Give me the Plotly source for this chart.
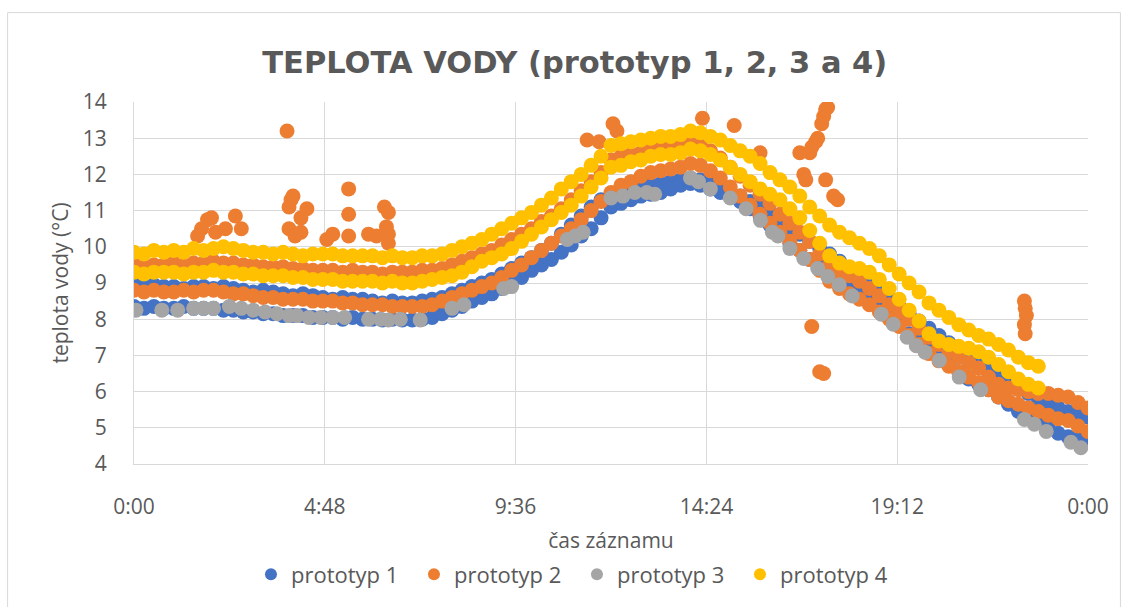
import plotly.graph_objects as go

# --- sampling clock of the loggers (hours, every 15 minutes) ---
T = [i / 4 for i in range(97)]

# --- prototyp 1 (two overlapping days) ---
p1_upper = [8.95, 8.9, 8.95, 8.9, 8.9, 8.85, 8.9, 8.9, 8.85, 8.9, 8.85, 8.8,
            8.75, 8.8, 8.75, 8.7, 8.65, 8.7, 8.65, 8.6, 8.55, 8.6, 8.55, 8.55,
            8.5, 8.45, 8.5, 8.45, 8.45, 8.5, 8.55, 8.6, 8.7, 8.8, 8.9, 9.0,
            9.1, 9.25, 9.4, 9.55, 9.7, 9.9, 10.1, 10.35, 10.6, 10.85, 11.1, 11.3,
            11.45, 11.55, 11.6, 11.65, 11.7, 11.75, 11.8, 11.85, 11.9, 11.85, 11.75, 11.65,
            11.5, 11.4, 11.25, 11.1, 10.95, 10.75, 10.55, 10.35, 10.15, 9.95, 9.8, 9.6,
            9.4, 9.2, 9.0, 8.8, 8.6, 8.35, 8.15, 7.95, 7.75, 7.55, 7.35, 7.15,
            6.95, 6.75, 6.6, 6.45, 6.25, 6.1, 5.95, 5.8, 5.65, 5.55, 5.45, 5.35, 5.3]
p1_lower = [8.35, 8.3, 8.35, 8.3, 8.3, 8.35, 8.3, 8.3, 8.3, 8.25, 8.25, 8.2,
            8.2, 8.15, 8.15, 8.1, 8.1, 8.1, 8.05, 8.05, 8.05, 8.0, 8.05, 8.0,
            8.0, 7.98, 8.0, 7.98, 7.98, 8.0, 8.05, 8.15, 8.25, 8.35, 8.5, 8.6,
            8.7, 8.85, 9.0, 9.15, 9.35, 9.5, 9.65, 9.85, 10.05, 10.3, 10.5, 10.8,
            11.1, 11.2, 11.3, 11.4, 11.45, 11.5, 11.6, 11.7, 11.75, 11.7, 11.6, 11.5,
            11.4, 11.25, 11.05, 10.85, 10.6, 10.35, 10.1, 9.9, 9.65, 9.5, 9.3, 9.1,
            8.85, 8.7, 8.5, 8.3, 8.05, 7.85, 7.6, 7.4, 7.2, 7.0, 6.75, 6.55,
            6.35, 6.2, 6.05, 5.85, 5.65, 5.45, 5.3, 5.15, 5.0, 4.85, 4.75, 4.7, 4.65]

# --- prototyp 2 ---
p2_upper = [9.5, 9.45, 9.5, 9.5, 9.55, 9.5, 9.55, 9.55, 9.6, 9.55, 9.55, 9.5,
            9.5, 9.45, 9.45, 9.45, 9.4, 9.4, 9.35, 9.35, 9.35, 9.3, 9.35, 9.3,
            9.3, 9.25, 9.3, 9.3, 9.3, 9.35, 9.35, 9.4, 9.5, 9.6, 9.7, 9.8,
            9.9, 10.05, 10.2, 10.35, 10.5, 10.7, 10.85, 11.05, 11.3, 11.55, 11.8, 12.05,
            12.4, 12.5, 12.55, 12.6, 12.7, 12.75, 12.75, 12.8, 12.85, 12.8, 12.65, 12.45,
            12.2, 11.95, 11.7, 11.45, 11.2, 10.9, 10.65, 10.4, 10.15, 9.8, 9.5, 9.3,
            9.2, 9.05, 8.85, 8.65, 8.4, 8.2, 8.0, 7.75, 7.5, 7.3, 7.1, 6.95,
            6.8, 6.65, 6.4, 6.2, 6.1, 6.05, 6.0, 5.95, 5.95, 5.9, 5.85, 5.7, 5.55]
p2_lower = [8.8, 8.75, 8.8, 8.75, 8.75, 8.8, 8.75, 8.8, 8.8, 8.75, 8.7, 8.7,
            8.65, 8.6, 8.6, 8.55, 8.55, 8.55, 8.5, 8.5, 8.5, 8.45, 8.45, 8.4,
            8.4, 8.4, 8.35, 8.35, 8.35, 8.35, 8.4, 8.5, 8.6, 8.7, 8.8, 8.9,
            9.0, 9.15, 9.35, 9.5, 9.7, 9.9, 10.1, 10.3, 10.5, 10.75, 11.0, 11.25,
            11.5, 11.7, 11.8, 11.95, 12.05, 12.1, 12.15, 12.2, 12.3, 12.25, 12.1, 11.9,
            11.65, 11.4, 11.15, 10.9, 10.65, 10.4, 10.15, 9.9, 9.65, 9.35, 9.05, 8.85,
            8.7, 8.55, 8.4, 8.2, 8.0, 7.8, 7.55, 7.3, 7.05, 6.85, 6.7, 6.55,
            6.4, 6.25, 6.05, 5.85, 5.75, 5.65, 5.55, 5.45, 5.35, 5.25, 5.2, 5.05, 4.9]
p2_spike_t = [1.6, 1.7, 1.85, 1.95, 2.05, 2.3, 2.55, 2.7,
              3.85, 3.9, 3.95, 4.0, 3.9, 4.05, 4.2, 4.35, 4.2,
              4.85, 5.0, 5.4, 5.4, 5.4, 5.9, 6.1, 6.3, 6.4, 6.35, 6.4, 6.4,
              11.4, 11.7, 12.05, 12.15, 14.3, 15.1, 15.75,
              16.75, 16.85, 16.9, 17.0, 17.05, 17.15, 17.2, 17.3, 17.35, 17.4, 17.45,
              17.4, 17.6, 17.7, 17.05, 17.25, 17.35,
              22.4, 22.42, 22.45, 22.4, 22.42]
p2_spike_v = [10.3, 10.5, 10.75, 10.8, 10.4, 10.5, 10.85, 10.5,
              13.2, 11.1, 11.3, 11.4, 10.5, 10.3, 10.8, 11.05, 10.4,
              10.2, 10.35, 11.6, 10.9, 10.3, 10.35, 10.3, 11.1, 10.95, 10.55, 10.35, 10.1,
              12.95, 12.9, 13.4, 13.2, 13.55, 13.35, 12.6,
              12.6, 12.0, 11.85, 12.6, 12.75, 12.9, 13.0, 13.4, 13.6, 13.8, 13.85,
              11.85, 11.4, 11.3, 7.8, 6.55, 6.5,
              8.5, 8.3, 8.1, 7.85, 7.6]

# --- prototyp 3 (sparser record) ---
p3_t = [0.05, 0.7, 1.1, 1.5, 1.75, 2.0, 2.4, 2.7, 3.0, 3.3, 3.6, 3.9, 4.1, 4.4,
        4.7, 5.0, 5.3, 5.9, 6.2, 6.4, 6.7, 7.2, 8.0, 8.3, 9.3, 9.5, 10.9, 11.1,
        11.3, 12.0, 12.3, 12.6, 12.9, 13.1, 14.0, 14.2, 14.5, 15.0, 15.4, 15.76,
        16.06, 16.2, 16.5, 16.85, 17.2, 17.45, 17.74, 18.07, 18.8, 19.1, 19.45, 19.68,
        19.9, 20.26, 20.76, 21.3, 22.4, 22.65, 22.95, 23.57, 23.82]
p3_v = [8.25, 8.25, 8.25, 8.3, 8.3, 8.3, 8.35, 8.3, 8.25, 8.2, 8.15, 8.1, 8.1, 8.05,
        8.05, 8.05, 8.05, 8.0, 8.0, 7.98, 8.0, 7.98, 8.3, 8.4, 8.85, 8.9, 10.2, 10.3,
        10.4, 11.35, 11.4, 11.5, 11.5, 11.45, 11.9, 11.8, 11.6, 11.35, 11.05, 10.73,
        10.4, 10.3, 9.95, 9.68, 9.4, 9.18, 8.95, 8.64, 8.14, 7.86, 7.5, 7.27,
        7.09, 6.86, 6.4, 6.05, 5.23, 5.1, 4.9, 4.6, 4.45]

# --- prototyp 4 (record ends before midnight) ---
p4_upper = [9.85, 9.8, 9.9, 9.85, 9.9, 9.85, 9.95, 9.9, 9.95, 10.0, 9.95, 9.9,
            9.85, 9.85, 9.8, 9.85, 9.8, 9.75, 9.8, 9.8, 9.8, 9.75, 9.75, 9.75,
            9.75, 9.7, 9.75, 9.7, 9.7, 9.75, 9.75, 9.8, 9.9, 10.0, 10.1, 10.2,
            10.35, 10.5, 10.65, 10.8, 10.95, 11.15, 11.35, 11.6, 11.8, 12.0, 12.25, 12.5,
            12.8, 12.85, 12.9, 12.95, 13.0, 13.05, 13.05, 13.1, 13.2, 13.15, 13.05, 12.95,
            12.8, 12.65, 12.5, 12.3, 12.05, 11.85, 11.65, 11.4, 11.1, 10.85, 10.6, 10.4,
            10.25, 10.1, 9.95, 9.75, 9.5, 9.25, 9.0, 8.75, 8.45, 8.25, 8.05, 7.85,
            7.7, 7.55, 7.45, 7.3, 7.15, 6.95, 6.8, 6.7]
p4_lower = [9.3, 9.25, 9.3, 9.3, 9.3, 9.25, 9.3, 9.3, 9.35, 9.3, 9.3, 9.25,
            9.25, 9.2, 9.2, 9.2, 9.15, 9.15, 9.1, 9.1, 9.1, 9.05, 9.05, 9.05,
            9.05, 9.0, 9.05, 9.0, 9.0, 9.05, 9.1, 9.15, 9.2, 9.3, 9.45, 9.6,
            9.7, 9.8, 9.95, 10.15, 10.35, 10.55, 10.75, 10.95, 11.15, 11.4, 11.65, 11.9,
            12.2, 12.25, 12.35, 12.4, 12.5, 12.55, 12.55, 12.6, 12.7, 12.65, 12.55, 12.4,
            12.2, 12.0, 11.8, 11.6, 11.45, 11.3, 11.05, 10.8, 10.45, 10.1, 9.75, 9.55,
            9.45, 9.4, 9.3, 9.1, 8.85, 8.55, 8.25, 7.95, 7.6, 7.4, 7.3, 7.25,
            7.2, 7.1, 6.95, 6.75, 6.55, 6.35, 6.2, 6.1]

names = ["prototyp 1", "prototyp 2", "prototyp 3", "prototyp 4"]
colors = ["#4472C4", "#ED7D31", "#A5A5A5", "#FFC000"]
tick_vals = [0, 4.8, 9.6, 14.4, 19.2, 24]
tick_text = ["0:00", "4:48", "9:36", "14:24", "19:12", "0:00"]

T4 = T[:len(p4_upper)]
series = [
    (T + T, p1_upper + p1_lower),
    (T + T + p2_spike_t, p2_upper + p2_lower + p2_spike_v),
    (p3_t, p3_v),
    (T4 + T4, p4_upper + p4_lower),
]

FONT = "Open Sans"
GREY = "#595959"

fig = go.Figure()
for (xs, ys), n, c in zip(series, names, colors):
    fig.add_trace(go.Scatter(x=xs, y=ys, mode="markers", name=n,
                             marker=dict(color=c, size=15, line=dict(width=0))))

fig.update_layout(
    width=1127, height=607,
    margin=dict(l=134, r=39, t=102, b=141),
    paper_bgcolor="white", plot_bgcolor="white",
    font=dict(family=FONT, color=GREY, size=21),
    title=dict(text="<b>TEPLOTA VODY (prototyp 1, 2, 3 a 4)</b>",
               x=0.51, xanchor="center", y=0.898, yanchor="middle",
               font=dict(family="DejaVu Sans", size=30.5, color=GREY)),
    xaxis=dict(range=[0, 24], tickvals=tick_vals, ticktext=tick_text,
               showgrid=True, gridcolor="#D9D9D9", gridwidth=1,
               zeroline=False, showline=True, linecolor="#D9D9D9", mirror=False,
               ticks="outside", ticklen=24, tickcolor="rgba(0,0,0,0)",
               tickfont=dict(size=21, color=GREY), automargin=False,
               title=dict(text="čas záznamu", font=dict(size=21, color=GREY), standoff=14)),
    yaxis=dict(range=[4, 14], dtick=1, showgrid=True, gridcolor="#D9D9D9",
               zeroline=False, showline=True, linecolor="#D9D9D9",
               ticks="outside", ticklen=22, tickcolor="rgba(0,0,0,0)",
               tickfont=dict(size=21, color=GREY), automargin=False,
               title=dict(text="teplota vody (°C)", font=dict(size=21, color=GREY), standoff=8)),
    legend=dict(orientation="h", x=0.1226, xanchor="left", y=-0.305, yanchor="middle",
                font=dict(size=22, color=GREY), itemsizing="constant",
                itemwidth=30, tracegroupgap=0, entrywidth=118, entrywidthmode="pixels"),
    shapes=[dict(type="rect", xref="paper", yref="paper",
                 x0=-0.1325, x1=1.034, y0=-0.4, y1=1.247,
                 line=dict(color="#D9D9D9", width=1), layer="below")],
)

fig.write_html("out.html", config={"displayModeBar": False},
               post_script="document.body.style.margin='0';")
